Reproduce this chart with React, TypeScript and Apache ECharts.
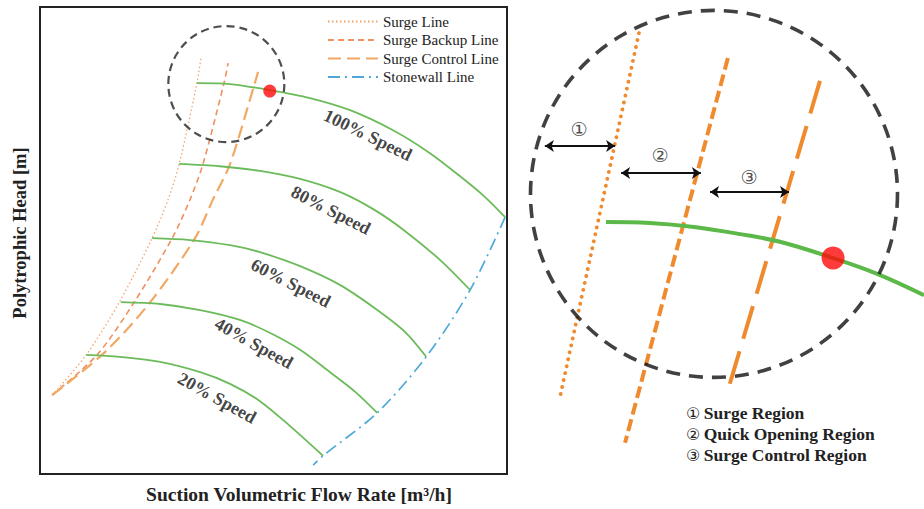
import React, { useEffect, useRef } from "react";
import * as echarts from "echarts";

// ---------- Left chart (compressor map), units: flow 0-100, head 0-100 ----------
const surgeX = [2.6, 9.9, 17.1, 24.0, 27.4, 29.8, 33.6, 34.5];
const surgeY = [16.9, 25.5, 37.0, 50.5, 58.7, 66.4, 83.7, 89.3];
const backupX = [2.6, 12.2, 20.3, 28.3, 32.1, 34.9, 39.4, 40.3];
const backupY = [16.9, 25.5, 37.0, 50.5, 58.7, 66.4, 83.7, 88.0];
const controlX = [2.6, 13.9, 23.6, 33.2, 37.0, 40.7, 46.0, 46.7];
const controlY = [16.9, 26.1, 36.8, 50.5, 58.7, 66.4, 83.7, 86.1];
const stonewallX = [99.6, 92.1, 82.7, 72.2, 60.6, 58.5];
const stonewallY = [55.0, 39.4, 25.1, 13.1, 3.9, 1.9];

const s100X = [33.6, 40.7, 49.2, 57.8, 66.4, 75.6, 83.5, 89.9, 95.3, 99.6];
const s100Y = [83.7, 83.5, 82.2, 80.5, 77.9, 73.6, 68.7, 63.8, 59.3, 55.0];
const s80X = [29.8, 38.5, 47.1, 55.7, 64.2, 71.7, 78.2, 85.7, 92.1];
const s80Y = [66.4, 65.9, 64.9, 63.2, 60.4, 56.5, 52.0, 45.8, 39.4];
const s60X = [24.0, 32.1, 40.7, 47.1, 55.7, 64.2, 71.7, 78.2, 82.7];
const s60Y = [50.5, 50.1, 49.0, 47.5, 44.5, 40.5, 35.5, 30.4, 25.1];
const s40X = [17.3, 25.7, 34.3, 42.8, 49.3, 55.7, 62.1, 67.5, 72.2];
const s40Y = [36.8, 36.4, 35.1, 33.0, 30.2, 26.6, 21.8, 17.6, 13.1];
const s20X = [9.9, 17.1, 25.7, 34.3, 40.7, 47.1, 53.5, 60.6];
const s20Y = [25.5, 25.1, 24.0, 21.8, 19.3, 15.6, 10.3, 3.9];

const speedNames = ["100% Speed", "80% Speed", "60% Speed", "40% Speed", "20% Speed"];
const speedLabelX = [70.2, 62.3, 53.7, 45.8, 37.9];
const speedLabelY = [72.6, 56.5, 40.9, 28.0, 16.3];
const speedLabelAngle = [-26, -27, -27, -29, -29];

const operatingPoint = [49.2, 82.0];
const zoomCircleCenter = [39.9, 83.5];

const legendNames = ["Surge Line", "Surge Backup Line", "Surge Control Line", "Stonewall Line"];

// ---------- Right panel (magnified view), units 0-100 ----------
const zSurgeX = [28.2, 8.3];
const zSurgeY = [93.5, 22.0];
const zBackupX = [50.6, 24.7];
const zBackupY = [88.6, 13.0];
const zControlX = [73.8, 50.4];
const zControlY = [84.1, 22.8];
const zSpeedX = [19.9, 31.0, 42.1, 53.7, 63.7, 77.1, 88.2, 100];
const zSpeedY = [56.4, 56.2, 55.4, 54.0, 52.5, 49.3, 46.2, 42.0];
const zPoint = [77.1, 49.3];
const bigCircleCenter = [47.1, 61.9];

const regionMarks = ["①", "②", "③"];
const arrowStartX = [4.5, 23.7, 46.1];
const arrowEndX = [22.2, 43.8, 66.0];
const arrowY = [71.3, 66.0, 62.3];
const markX = [13.1, 33.5, 55.9];
const markY = [74.7, 69.5, 65.2];
const regionNames = ["Surge Region", "Quick Opening Region", "Surge Control Region"];

const pairs = (xs: number[], ys: number[]) => xs.map((x, i) => [x, ys[i]]);

export default function App() {
  const ref = useRef<HTMLDivElement>(null);
  useEffect(() => {
    const chart = echarts.init(ref.current!, null, { renderer: "svg" });
    const serif = "'Liberation Serif', 'Times New Roman', serif";
    const circFont = "'DejaVu Sans', 'Noto Sans CJK SC', sans-serif";
    const green = "#6cbb5a";
    const orange = "#ef8a2e";

    const speedData = [
      pairs(s100X, s100Y),
      pairs(s80X, s80Y),
      pairs(s60X, s60Y),
      pairs(s40X, s40Y),
      pairs(s20X, s20Y),
    ];

    const option: any = {
      animation: false,
      backgroundColor: "#fff",
      grid: [
        { left: 40, top: 7, width: 467, height: 467, show: true, borderColor: "#222", borderWidth: 2, backgroundColor: "transparent" },
        { left: 527, top: 0, width: 397, height: 509, show: false },
      ],
      xAxis: [
        { type: "value", gridIndex: 0, min: 0, max: 100, show: false },
        { type: "value", gridIndex: 1, min: 0, max: 100, show: false },
      ],
      yAxis: [
        { type: "value", gridIndex: 0, min: 0, max: 100, show: false },
        { type: "value", gridIndex: 1, min: 0, max: 100, show: false },
      ],
      legend: {
        data: legendNames,
        orient: "vertical",
        left: 322,
        top: 9,
        itemWidth: 50,
        itemHeight: 12,
        itemGap: 3.5,
        selectedMode: false,
        itemStyle: { opacity: 0 },
        textStyle: { fontFamily: serif, fontSize: 15, color: "#222" },
      },
      graphic: [
        {
          type: "text",
          x: 20,
          y: 233,
          rotation: Math.PI / 2,
          style: { text: "Polytrophic Head [m]", fontFamily: serif, fontSize: 18.5, fontWeight: "bold", fill: "#222", align: "center", verticalAlign: "middle" },
        },
        {
          type: "text",
          x: 299,
          y: 494,
          style: { text: "Suction Volumetric Flow Rate [m³/h]", fontFamily: serif, fontSize: 19.5, fontWeight: "bold", fill: "#222", align: "center", verticalAlign: "middle" },
        },
        ...regionNames.map((t, i) => ({
          type: "text",
          x: 686,
          y: 413 + i * 21,
          style: {
            text: "{c|" + regionMarks[i] + "} {t|" + t + "}",
            align: "left",
            verticalAlign: "middle",
            rich: {
              c: { fontFamily: circFont, fontSize: 16, fontWeight: "normal", fill: "#222", color: "#222" },
              t: { fontFamily: serif, fontSize: 17.5, fontWeight: "bold", fill: "#222", color: "#222" },
            },
          },
        })),
      ],
      series: [
        {
          name: "Surge Line", type: "line", xAxisIndex: 0, yAxisIndex: 0, symbol: "none", smooth: 0.3,
          data: pairs(surgeX, surgeY), lineStyle: { color: "#f4a46c", width: 1.3, type: [1.5, 2.5] }, itemStyle: { color: "#f4a46c" }, z: 2,
        },
        {
          name: "Surge Backup Line", type: "line", xAxisIndex: 0, yAxisIndex: 0, symbol: "none", smooth: 0.3,
          data: pairs(backupX, backupY), lineStyle: { color: "#f08f60", width: 1.6, type: [6, 4] }, itemStyle: { color: "#f08f60" }, z: 2,
        },
        {
          name: "Surge Control Line", type: "line", xAxisIndex: 0, yAxisIndex: 0, symbol: "none", smooth: 0.3,
          data: pairs(controlX, controlY), lineStyle: { color: "#f2a865", width: 2.2, type: [13, 6] }, itemStyle: { color: "#f2a865" }, z: 2,
        },
        {
          name: "Stonewall Line", type: "line", xAxisIndex: 0, yAxisIndex: 0, symbol: "none", smooth: 0.3,
          data: pairs(stonewallX, stonewallY), lineStyle: { color: "#4ea9d8", width: 1.7, type: [12, 5, 2, 5] }, itemStyle: { color: "#4ea9d8" }, z: 2,
        },
        ...speedData.map((d, i) => ({
          name: speedNames[i], type: "line", xAxisIndex: 0, yAxisIndex: 0, symbol: "none", smooth: 0.3,
          data: d, lineStyle: { color: green, width: 1.8 }, z: 3,
        })),
        {
          name: "speed labels", type: "scatter", xAxisIndex: 0, yAxisIndex: 0, symbolSize: 1,
          itemStyle: { color: "transparent" },
          data: speedNames.map((n, i) => ({
            value: [speedLabelX[i], speedLabelY[i]],
            name: n,
            label: { show: true, position: "inside", rotate: speedLabelAngle[i], formatter: n, fontFamily: serif, fontSize: 18, fontWeight: "bold", color: "#111", textBorderWidth: 0 },
          })),
          z: 4,
        },
        {
          name: "operating point", type: "scatter", xAxisIndex: 0, yAxisIndex: 0, symbolSize: 13,
          data: [operatingPoint], itemStyle: { color: "#ff0a0a" }, z: 6,
        },
        {
          name: "zoom circle", type: "scatter", xAxisIndex: 0, yAxisIndex: 0, symbolSize: 116,
          data: [zoomCircleCenter], itemStyle: { color: "rgba(0,0,0,0)", borderColor: "#222", borderWidth: 2.2, borderType: [8, 5] }, z: 5,
        },
        // ----- right panel -----
        {
          name: "z surge", type: "line", xAxisIndex: 1, yAxisIndex: 1, symbol: "none",
          data: pairs(zSurgeX, zSurgeY), lineStyle: { color: orange, width: 3.8, type: [0.1, 7], cap: "round" }, z: 2,
        },
        {
          name: "z backup", type: "line", xAxisIndex: 1, yAxisIndex: 1, symbol: "none",
          data: pairs(zBackupX, zBackupY), lineStyle: { color: orange, width: 4, type: [12, 5] }, z: 2,
        },
        {
          name: "z control", type: "line", xAxisIndex: 1, yAxisIndex: 1, symbol: "none",
          data: pairs(zControlX, zControlY), lineStyle: { color: orange, width: 4, type: [34, 13] }, z: 2,
        },
        {
          name: "z speed", type: "line", xAxisIndex: 1, yAxisIndex: 1, symbol: "none", smooth: 0.4,
          data: pairs(zSpeedX, zSpeedY), lineStyle: { color: "#5cb848", width: 4 }, z: 3,
        },
        {
          name: "z point", type: "scatter", xAxisIndex: 1, yAxisIndex: 1, symbolSize: 23,
          data: [zPoint], itemStyle: { color: "#ff0a0a" }, z: 6,
        },
        {
          name: "big circle", type: "scatter", xAxisIndex: 1, yAxisIndex: 1, symbolSize: 367,
          data: [bigCircleCenter], itemStyle: { color: "rgba(0,0,0,0)", borderColor: "#111", borderWidth: 3.6, borderType: [14, 9] }, z: 5,
        },
        {
          name: "arrows", type: "lines", coordinateSystem: "cartesian2d", xAxisIndex: 1, yAxisIndex: 1,
          symbol: ["arrow", "arrow"], symbolSize: 9,
          lineStyle: { color: "#111", width: 1.8, opacity: 1 },
          data: arrowY.map((y, i) => ({ coords: [[arrowStartX[i], y], [arrowEndX[i], y]] })),
          z: 4,
        },
        {
          name: "region marks", type: "scatter", xAxisIndex: 1, yAxisIndex: 1, symbolSize: 1,
          itemStyle: { color: "transparent" },
          data: regionMarks.map((m, i) => ({
            value: [markX[i], markY[i]],
            label: { show: true, position: "inside", formatter: m, fontFamily: circFont, fontSize: 19, color: "#222", textBorderWidth: 0 },
          })),
          z: 4,
        },
      ],
    };
    chart.setOption(option);
    return () => chart.dispose();
  }, []);
  return <div ref={ref} style={{ position: "absolute", left: 0, top: 0, width: 924, height: 509, background: "#fff" }} />;
}
